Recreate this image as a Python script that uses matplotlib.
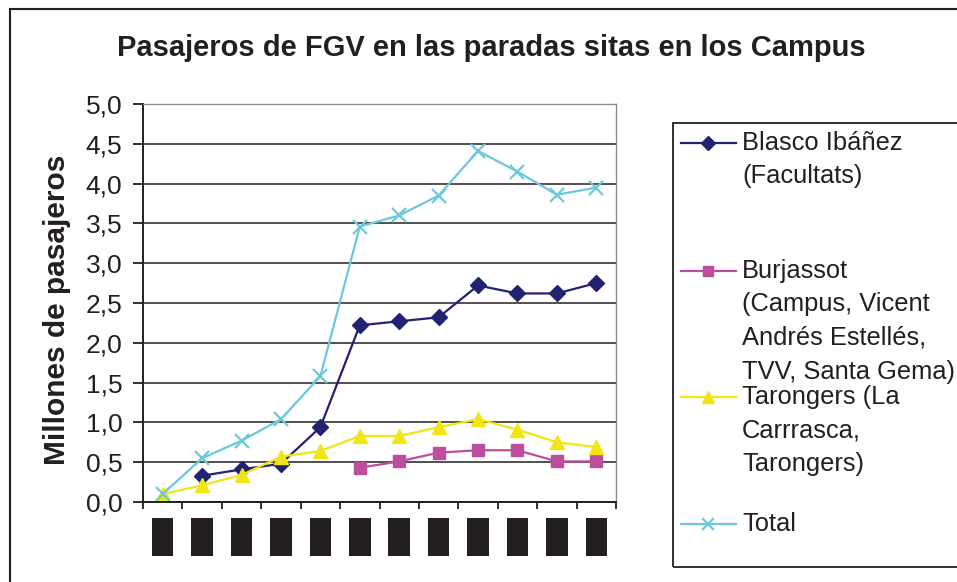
import numpy as np
import matplotlib
matplotlib.use('Agg')
import matplotlib.pyplot as plt
from matplotlib.lines import Line2D
from matplotlib.patches import Rectangle

plt.rcParams['font.family'] = ['Liberation Sans', 'DejaVu Sans']

# etiquetas del eje x (ocultas en el original tras recuadros negros)
cursos = ['1995', '1996', '1997', '1998', '1999', '2000',
          '2001', '2002', '2003', '2004', '2005', '2006']

# millones de pasajeros
blasco = [np.nan, 0.33, 0.41, 0.48, 0.94, 2.22, 2.27, 2.32, 2.72, 2.62, 2.62, 2.75]
burjassot = [np.nan, np.nan, np.nan, np.nan, np.nan, 0.43, 0.51, 0.62, 0.65, 0.65, 0.51, 0.51]
tarongers = [0.10, 0.21, 0.34, 0.57, 0.64, 0.83, 0.83, 0.94, 1.04, 0.91, 0.75, 0.69]
total = [0.10, 0.55, 0.77, 1.04, 1.58, 3.46, 3.60, 3.85, 4.41, 4.15, 3.86, 3.95]

series = [
    ('Blasco Ibáñez\n(Facultats)', blasco, '#222272', 'D', 8),
    ('Burjassot\n(Campus, Vicent\nAndrés Estellés,\nTVV, Santa Gema)', burjassot, '#BD4E9E', 's', 8),
    ('Tarongers (La\nCarrrasca,\nTarongers)', tarongers, '#F0E614', '^', 10),
    ('Total', total, '#6CC9DB', 'x', 10),
]

W, H = 957, 582
fig = plt.figure(figsize=(W / 100, H / 100), dpi=100)


def fx(px):
    return px / W


def fy(py):
    return 1 - py / H


ax = fig.add_axes([fx(143), fy(502), fx(616) - fx(143), fy(104) - fy(502)])

x = np.arange(len(cursos))
for label, vals, color, marker, ms in series:
    kw = dict(markeredgewidth=1.6) if marker == 'x' else dict(markeredgecolor=color)
    ax.plot(x, vals, color=color, lw=1.6, marker=marker, ms=ms,
            markerfacecolor=color, clip_on=False, **kw)

ax.set_xlim(-0.5, len(cursos) - 0.5)
ax.set_ylim(0, 5)
ax.set_yticks(np.arange(0, 5.01, 0.5))
ax.set_yticklabels([f'{v:.1f}'.replace('.', ',') for v in np.arange(0, 5.01, 0.5)],
                   fontsize=19, color='#231f20')
ax.tick_params(axis='y', direction='out', length=7, width=1.3, pad=8, colors='#231f20')
ax.yaxis.grid(True, color='#231f20', lw=1.1)
ax.set_axisbelow(True)

ax.set_xticks(np.arange(-0.5, len(cursos), 1))
ax.set_xticklabels([])
ax.tick_params(axis='x', which='major', direction='out', length=5, width=1.3, colors='#231f20')
ax.set_xticks(x, minor=True)
ax.set_xticklabels(cursos, minor=True, rotation=90, fontsize=10, color='#231f20')
ax.tick_params(axis='x', which='minor', length=0, pad=14)
for t in ax.get_xticklabels(minor=True):
    t.set_bbox(dict(boxstyle='square,pad=0.27', fc='#231f20', ec='none'))

for s in ['left', 'bottom']:
    ax.spines[s].set_color('#231f20')
    ax.spines[s].set_linewidth(1.4)
for s in ['top', 'right']:
    ax.spines[s].set_color('#8c8c8c')
    ax.spines[s].set_linewidth(1.0)

fig.text(fx(491), fy(48), 'Pasajeros de FGV en las paradas sitas en los Campus',
         ha='center', va='center', fontsize=21, fontweight='bold', color='#231f20')
fig.text(fx(57), fy(310), 'Millones de pasajeros', rotation=90, ha='center',
         va='center', fontsize=21.5, fontweight='bold', color='#231f20')

# marco exterior
fig.add_artist(Rectangle((fx(10), -0.2), 1.2, fy(9) + 0.2, transform=fig.transFigure,
                         fill=False, ec='#231f20', lw=1.5))

# leyenda
fig.add_artist(Rectangle((fx(673), fy(567)), 1.0, fy(123) - fy(567),
                         transform=fig.transFigure, fill=False, ec='#231f20', lw=1.3))
legend_y = [143, 271, 397, 524]
for (label, vals, color, marker, ms), ly in zip(series, legend_y):
    kw = dict(markeredgewidth=1.6) if marker == 'x' else dict(markeredgecolor=color)
    fig.add_artist(Line2D([fx(681), fx(736)], [fy(ly), fy(ly)], transform=fig.transFigure,
                          color=color, lw=1.6))
    fig.add_artist(Line2D([fx(708)], [fy(ly)], transform=fig.transFigure, color=color,
                          marker=marker, ms=ms * 0.9, markerfacecolor=color, **kw))
    for i, line in enumerate(label.split('\n')):
        fig.text(fx(742), fy(ly + 7 + i * 33.5), line, ha='left', va='baseline',
                 fontsize=18.4, color='#231f20')

fig.savefig('out.png', dpi=100)
